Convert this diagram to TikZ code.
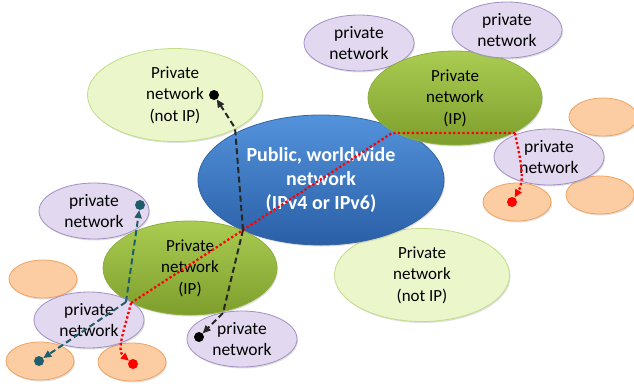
\documentclass[tikz,border=0pt]{standalone}
\usepackage{fontspec}
\setmainfont{Carlito}
\usetikzlibrary{arrows.meta,shapes.geometric,shadows}
\definecolor{lgfill}{HTML}{EBF6CB}
\definecolor{lgdraw}{HTML}{C3DD88}
\definecolor{pufill}{HTML}{E2D8EF}
\definecolor{pudraw}{HTML}{A290C3}
\definecolor{orfill}{HTML}{FCCCA2}
\definecolor{ordraw}{HTML}{F0A460}
\definecolor{gntop}{HTML}{AACC52}
\definecolor{gnbot}{HTML}{7E9E2C}
\definecolor{gndraw}{HTML}{8FAE3E}
\definecolor{bltop}{HTML}{5393DC}
\definecolor{blbot}{HTML}{2A5FA6}
\definecolor{bldraw}{HTML}{35659F}
\definecolor{tealc}{HTML}{215E6C}
\definecolor{redc}{HTML}{FF0000}
\begin{document}
\begin{tikzpicture}[x=1pt,y=-1pt,
  base/.style={ellipse,inner sep=0pt,align=center,line width=0.8pt,
    drop shadow={shadow xshift=1pt,shadow yshift=-1.5pt,opacity=0.25}},
  lgnet/.style={base,fill=lgfill,draw=lgdraw,minimum width=175pt,minimum height=93pt,
    font=\fontsize{17}{21.5}\selectfont},
  gnnet/.style={base,top color=gntop,bottom color=gnbot,draw=gndraw,minimum width=174pt,minimum height=94pt,
    font=\fontsize{17}{21.5}\selectfont},
  punet/.style={base,fill=pufill,draw=pudraw,minimum width=110pt,minimum height=56pt,
    font=\fontsize{17.5}{21.5}\selectfont},
  ornet/.style={base,fill=orfill,draw=ordraw,minimum width=68pt,minimum height=38pt},
  pubnet/.style={base,top color=bltop,bottom color=blbot,draw=bldraw,minimum width=246pt,minimum height=130pt,
    text=white,font=\bfseries\fontsize{20}{24}\selectfont},
  dot/.style={circle,inner sep=0pt,minimum size=10pt},
  tip/.style={-{Triangle[length=8pt,width=7pt]}},
  redline/.style={draw=redc,line width=2.3pt,dash pattern=on 2.3pt off 2.3pt},
  tealline/.style={draw=tealc,line width=2pt,dash pattern=on 6pt off 3.5pt},
  blkline/.style={draw=black!85,line width=2pt,dash pattern=on 6pt off 3.5pt}
]
\useasboundingbox (0,0) rectangle (634,386);
% oranges
\node[ornet] (o1) at (43,279) {};
\node[ornet] (o2) at (40,361) {};
\node[ornet] (o3) at (132,362) {};
\node[ornet] (o4) at (603,117) {};
\node[ornet] (o5) at (600,195) {};
% light green
\node[lgnet] (ntl) at (175,95) {Private\\network\\(not IP)};
\node[lgnet] (nbr) at (422,275) {Private\\network\\(not IP)};
% purples behind greens
\node[punet] (pa) at (359,43) {private\\network};
\node[punet] (pd) at (94,211) {private\\network};
% public
\node[pubnet] (pub) at (321,180) {Public, worldwide\\network\\(IPv4 or IPv6)};
% green IP
\node[gnnet] (gtr) at (455,98) {Private\\network\\(IP)};
\node[gnnet] (gbl) at (190,268) {Private\\network\\(IP)};
% purples in front
\node[punet] (pb) at (507,30) {private\\network};
\node[punet] (pc) at (549,157) {private\\network};
\node[ornet] (o6) at (517,202) {};
\node[punet] (pe) at (89,320) {private\\network};
\node[punet] (pf) at (242,339) {private\\network};
% dots
\node[dot,fill=black] (bk1) at (214,95) {};
\node[dot,fill=black] (bk2) at (199,337) {};
\node[dot,fill=tealc] (td1) at (140,205) {};
\node[dot,fill=tealc] (td2) at (39,361) {};
\node[dot,fill=redc] (rd1) at (133,364) {};
\node[dot,fill=redc] (rd2) at (512,202) {};
% junctions
\coordinate (rj1) at (131,303);
\coordinate (rj2) at (392,133);
\coordinate (rj3) at (515,133);
\coordinate (tj) at (126,302);
\coordinate (bj1) at (235,128);
\coordinate (bj2) at (243,230);
\coordinate (bj3) at (223,313);
% red dotted
\draw[redline] (rj1) -- (rj2) -- (rj3);
\draw[redline,tip] (rj3) .. controls (519,155) and (526,178) .. (rd2);
\draw[redline,tip] (rj1) .. controls (125,328) and (116,350) .. (rd1);
% teal dashed
\draw[tealline,tip] (tj) -- (td1);
\draw[tealline,tip] (tj) -- (td2);
% black dashed
\draw[blkline,tip] (bj2) -- (bj1) -- (bk1);
\draw[blkline,tip] (bj2) -- (bj3) -- (bk2);
\end{tikzpicture}
\end{document}
